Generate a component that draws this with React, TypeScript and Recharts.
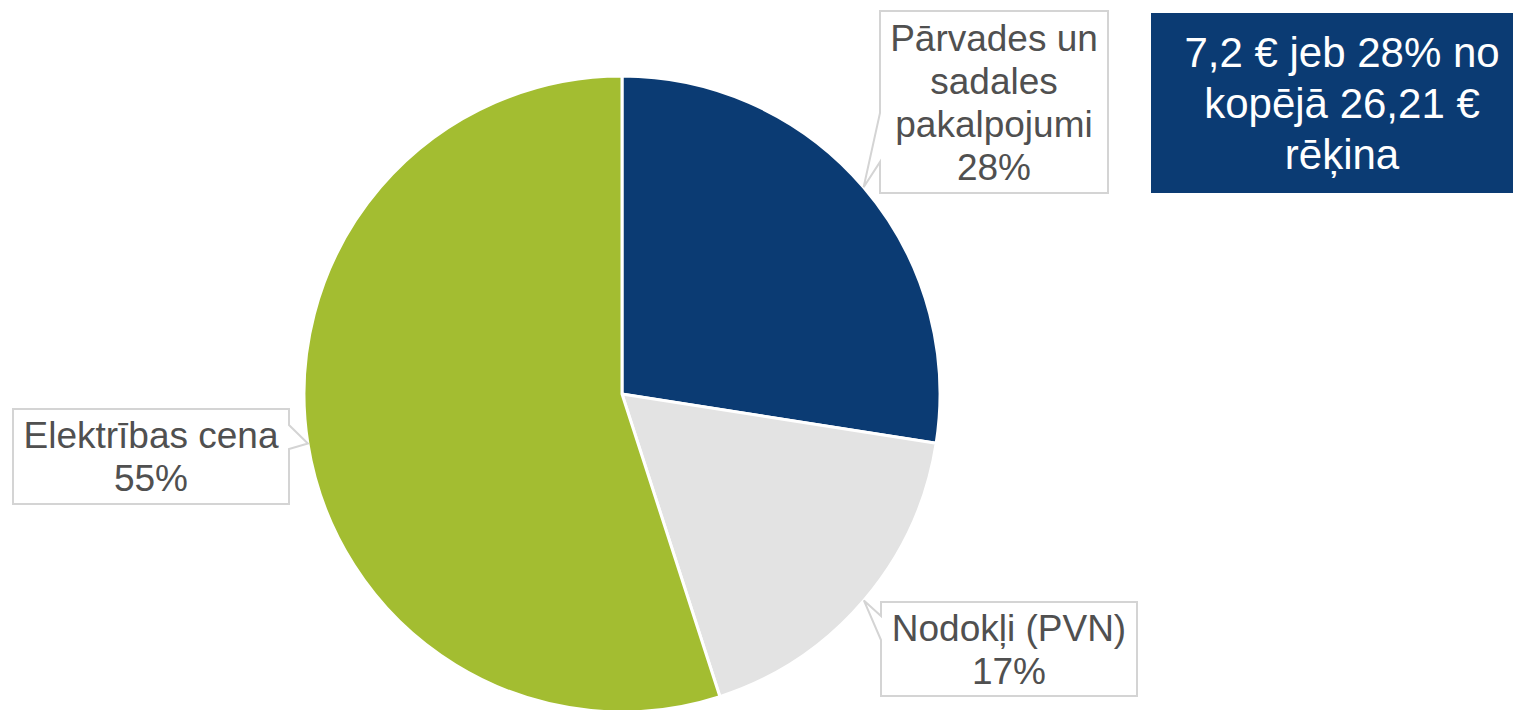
import React from 'react';
import { PieChart, Pie, Cell } from 'recharts';

// ── Data ──────────────────────────────────────────────────────────────────────

const CATEGORY_LINES = [
  ['Pārvades un', 'sadales', 'pakalpojumi'],
  ['Nodokļi (PVN)'],
  ['Elektrības cena'],
];
const CATEGORIES = CATEGORY_LINES.map((l) => l.join(' '));
const VALUES = [7.2, 4.6, 14.41]; // € of the 26,21 € bill
const PERCENT_LABELS = ['28%', '17%', '55%'];
const COLORS = ['#0b3b73', '#e3e3e3', '#a3bd31'];

const NOTE_LINES = ['7,2 € jeb 28% no', 'kopējā 26,21 €', 'rēķina'];

// ── Layout ────────────────────────────────────────────────────────────────────

const FONT = '"Liberation Sans", Arial, sans-serif';
const TEXT_COLOR = '#505050';

/** Callout boxes; the pointer tip is taken from the slice mid angle */
const CALLOUTS = [
  { x: 880, y: 11, w: 228, h: 182, side: 'left', base: [113, 162] },
  { x: 881, y: 602, w: 256, h: 94, side: 'left', base: [616, 640] },
  { x: 13, y: 409, w: 276, h: 95, side: 'right', base: [425, 449] },
];

const RADIAN = Math.PI / 180;

const data = CATEGORIES.map((name, i) => ({ name, value: VALUES[i] }));

const CalloutLabel = (props: any) => {
  const { cx, cy, midAngle, outerRadius, index } = props;
  const box = CALLOUTS[index];
  const tx = cx + outerRadius * Math.cos(-midAngle * RADIAN);
  const ty = cy + outerRadius * Math.sin(-midAngle * RADIAN);
  const { x, y, w, h, base } = box;

  const d =
    box.side === 'left'
      ? `M${x},${y} H${x + w} V${y + h} H${x} V${base[1]} L${tx},${ty} L${x},${base[0]} Z`
      : `M${x},${y} H${x + w} V${base[0]} L${tx},${ty} L${x + w},${base[1]} V${y + h} H${x} Z`;

  const lines = [...CATEGORY_LINES[index], PERCENT_LABELS[index]];
  const lh = 43;
  const midY = y + h / 2;

  return (
    <g>
      <path d={d} fill="#fff" stroke="#d4d4d4" strokeWidth={2} />
      {lines.map((t, i) => (
        <text
          key={i}
          x={x + w / 2}
          y={midY + (i - (lines.length - 1) / 2) * lh + 13}
          textAnchor="middle"
          fill={TEXT_COLOR}
          fontSize={37}
          fontFamily={FONT}
        >
          {t}
        </text>
      ))}
    </g>
  );
};

export default function App() {
  return (
    <div style={{ position: 'absolute', left: 0, top: 0, width: 1513, height: 710, background: '#fff' }}>
      <PieChart width={1513} height={710} margin={{ top: 0, right: 0, bottom: 0, left: 0 }}>
        <Pie
          data={data}
          dataKey="value"
          nameKey="name"
          cx={622}
          cy={394}
          outerRadius={318}
          startAngle={90}
          endAngle={-270}
          stroke="#fff"
          strokeWidth={3}
          labelLine={false}
          label={CalloutLabel}
          isAnimationActive={false}
        >
          {data.map((d, i) => (
            <Cell key={d.name} fill={COLORS[i]} />
          ))}
        </Pie>
      </PieChart>

      <div
        style={{
          position: 'absolute',
          left: 1151,
          top: 13,
          width: 362,
          height: 180,
          boxSizing: 'border-box',
          paddingLeft: 20,
          background: '#0b3b73',
          color: '#fff',
          fontFamily: FONT,
          fontSize: 42,
          lineHeight: '51px',
          textAlign: 'center',
          display: 'flex',
          flexDirection: 'column',
          justifyContent: 'center',
        }}
      >
        {NOTE_LINES.map((l) => (
          <div key={l} style={{ whiteSpace: 'nowrap' }}>{l}</div>
        ))}
      </div>
    </div>
  );
}
